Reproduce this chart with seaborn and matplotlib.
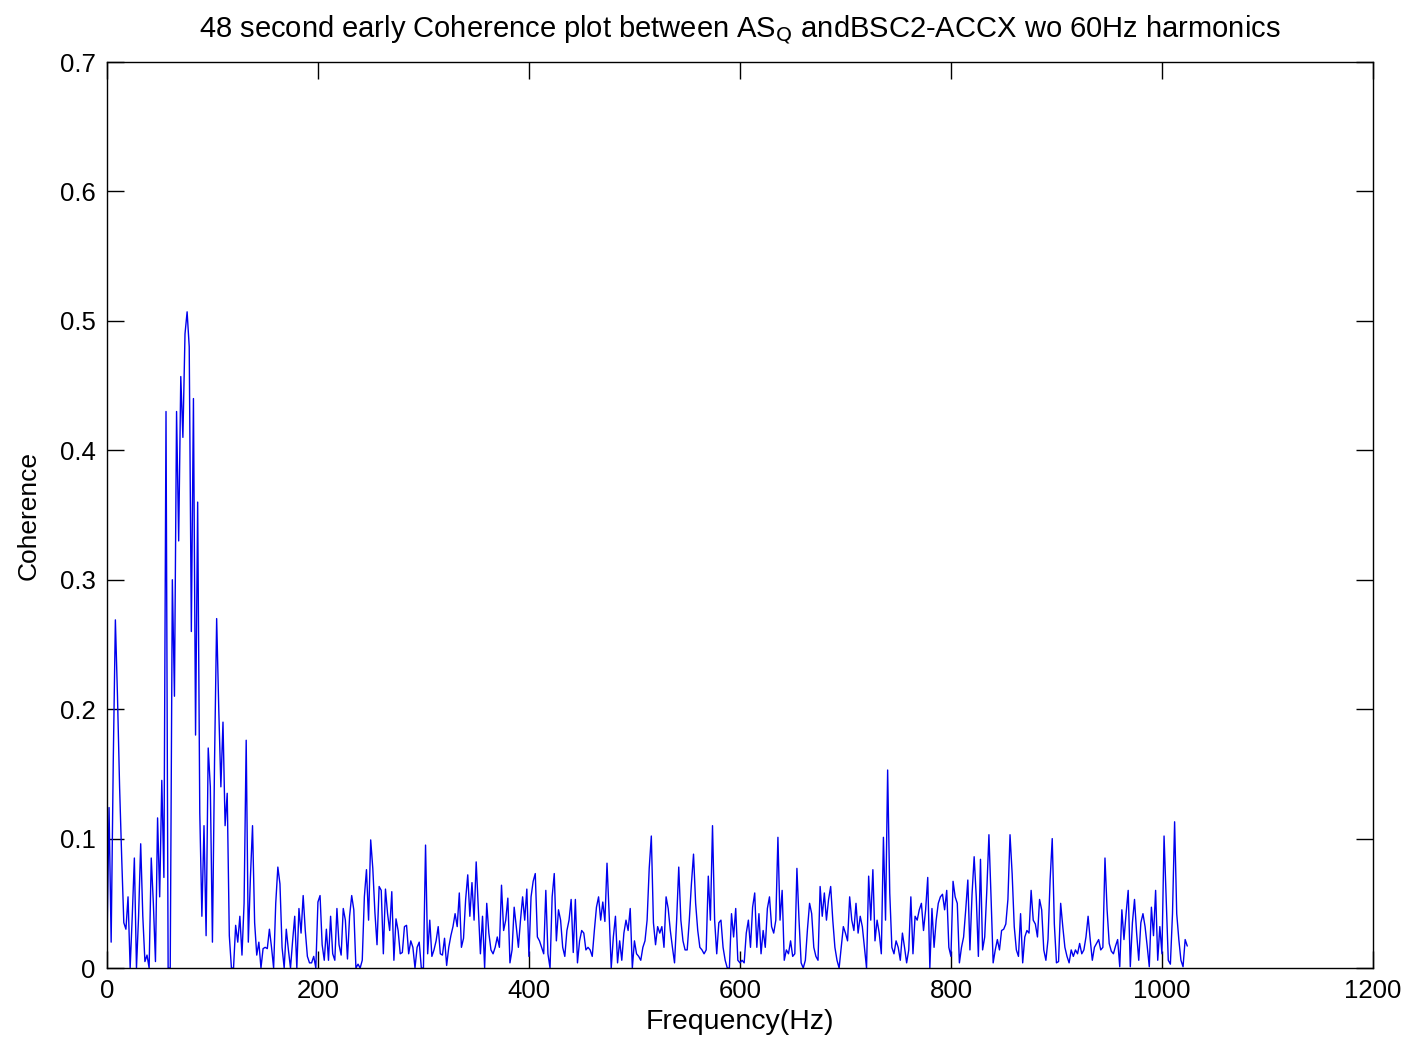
import numpy as np
import pandas as pd
import matplotlib
matplotlib.use("Agg")
import matplotlib.pyplot as plt
import seaborn as sns

coh_000_148 = [
    0.015, 0.124, 0.02, 0.16, 0.269, 0.21, 0.14, 0.085, 0.035, 0.03,
    0.055, 0.0, 0.04, 0.085, 0.0, 0.04, 0.096, 0.04, 0.005, 0.01,
    0.0, 0.085, 0.05, 0.005, 0.116, 0.055, 0.145, 0.07, 0.43, 0.0,
    0.0, 0.30, 0.21, 0.43, 0.33, 0.457, 0.41, 0.49, 0.507, 0.48,
    0.26, 0.44, 0.18, 0.36, 0.12, 0.04, 0.11, 0.025, 0.17, 0.14,
    0.02, 0.16, 0.27, 0.2, 0.14, 0.19, 0.11, 0.135, 0.025, 0.0,
    0.0, 0.033, 0.02, 0.04, 0.01, 0.05, 0.176, 0.02, 0.07, 0.11,
    0.035, 0.01, 0.02, 0.0, 0.015,
]
coh_150_304 = [
    0.016, 0.015, 0.03, 0.016, 0.0, 0.05, 0.078, 0.065, 0.016, 0.0,
    0.03, 0.014, 0.0, 0.021, 0.04, 0.0, 0.046, 0.027, 0.056, 0.029,
    0.009, 0.004, 0.004, 0.009, 0.0, 0.051, 0.056, 0.018, 0.006, 0.03,
    0.006, 0.04, 0.011, 0.006, 0.046, 0.018, 0.01, 0.046, 0.037, 0.007,
    0.04, 0.056, 0.045, 0.0, 0.003, 0.0, 0.006, 0.055, 0.076, 0.037,
    0.099, 0.077, 0.043, 0.018, 0.063, 0.06, 0.011, 0.061, 0.042, 0.029,
    0.059, 0.006, 0.038, 0.029, 0.011, 0.012, 0.032, 0.033, 0.011, 0.021,
    0.016, 0.0, 0.016, 0.02, 0.0, 0.0, 0.095, 0.011,
]
coh_306_476 = [
    0.037, 0.009, 0.014, 0.021, 0.032, 0.011, 0.01, 0.023, 0.002, 0.016,
    0.025, 0.032, 0.042, 0.032, 0.058, 0.016, 0.023, 0.053, 0.072, 0.04,
    0.066, 0.037, 0.082, 0.046, 0.011, 0.04, 0.0, 0.05, 0.027, 0.014,
    0.011, 0.016, 0.024, 0.016, 0.064, 0.029, 0.037, 0.054, 0.004, 0.014,
    0.047, 0.032, 0.016, 0.037, 0.055, 0.037, 0.061, 0.009, 0.055, 0.067,
    0.073, 0.024, 0.021, 0.016, 0.011, 0.06, 0.011, 0.0, 0.055, 0.073,
    0.021, 0.045, 0.037, 0.016, 0.009, 0.029, 0.037, 0.053, 0.012, 0.053,
    0.004, 0.021, 0.029, 0.027, 0.014, 0.016, 0.014, 0.009, 0.029, 0.047,
    0.055, 0.037, 0.051, 0.036, 0.081, 0.042,
]
coh_478_630 = [
    0.0, 0.024, 0.04, 0.004, 0.021, 0.006, 0.027, 0.037, 0.029, 0.046,
    0.0, 0.021, 0.011, 0.009, 0.006, 0.016, 0.021, 0.037, 0.077, 0.102,
    0.035, 0.018, 0.032, 0.027, 0.032, 0.016, 0.055, 0.046, 0.029, 0.016,
    0.004, 0.037, 0.078, 0.037, 0.021, 0.014, 0.014, 0.037, 0.065, 0.088,
    0.05, 0.029, 0.016, 0.014, 0.011, 0.014, 0.071, 0.037, 0.11, 0.037,
    0.011, 0.035, 0.037, 0.016, 0.006, 0.0, 0.0, 0.042, 0.024, 0.046,
    0.006, 0.004, 0.006, 0.004, 0.027, 0.037, 0.016, 0.047, 0.058, 0.016,
    0.042, 0.011, 0.029, 0.016, 0.046, 0.055, 0.032,
]
coh_632_790 = [
    0.027, 0.037, 0.101, 0.037, 0.06, 0.006, 0.014, 0.011, 0.021, 0.009,
    0.011, 0.077, 0.037, 0.004, 0.0, 0.006, 0.03, 0.05, 0.042, 0.016,
    0.009, 0.006, 0.063, 0.04, 0.058, 0.037, 0.053, 0.063, 0.037, 0.016,
    0.006, 0.0, 0.016, 0.032, 0.027, 0.021, 0.055, 0.037, 0.029, 0.05,
    0.027, 0.04, 0.032, 0.016, 0.0, 0.071, 0.037, 0.076, 0.021, 0.037,
    0.027, 0.011, 0.101, 0.037, 0.153, 0.058, 0.016, 0.011, 0.021, 0.016,
    0.006, 0.027, 0.016, 0.004, 0.014, 0.055, 0.011, 0.04, 0.037, 0.045,
    0.05, 0.029, 0.045, 0.07, 0.0, 0.046, 0.016, 0.037, 0.05, 0.055,
]
coh_792_950 = [
    0.057, 0.045, 0.06, 0.016, 0.009, 0.067, 0.055, 0.05, 0.004, 0.016,
    0.024, 0.045, 0.068, 0.014, 0.057, 0.086, 0.055, 0.009, 0.084, 0.014,
    0.024, 0.06, 0.103, 0.055, 0.004, 0.014, 0.022, 0.014, 0.029, 0.03,
    0.034, 0.053, 0.103, 0.073, 0.032, 0.014, 0.009, 0.042, 0.004, 0.024,
    0.029, 0.027, 0.06, 0.037, 0.034, 0.024, 0.053, 0.045, 0.014, 0.006,
    0.022, 0.068, 0.1, 0.034, 0.004, 0.005, 0.05, 0.032, 0.016, 0.009,
    0.004, 0.014, 0.009, 0.014, 0.011, 0.019, 0.011, 0.014, 0.024, 0.04,
    0.022, 0.006, 0.016, 0.019, 0.022, 0.014, 0.016, 0.085, 0.045, 0.019,
]
coh_952_1024 = [
    0.013, 0.011, 0.017, 0.022, 0.001, 0.045, 0.022, 0.042, 0.06, 0.001,
    0.035, 0.053, 0.027, 0.006, 0.035, 0.042, 0.032, 0.017, 0.001, 0.047,
    0.025, 0.06, 0.006, 0.032, 0.011, 0.102, 0.055, 0.006, 0.003, 0.042,
    0.113, 0.042, 0.022, 0.006, 0.001, 0.022, 0.017,
]

freq_step_hz = 2
coherence = (coh_000_148 + coh_150_304 + coh_306_476 + coh_478_630
             + coh_632_790 + coh_792_950 + coh_952_1024)
frequency = [i * freq_step_hz for i in range(len(coherence))]

x_ticks = [0, 200, 400, 600, 800, 1000, 1200]
y_ticks = [0, 0.1, 0.2, 0.3, 0.4, 0.5, 0.6, 0.7]
y_tick_labels = ["0", "0.1", "0.2", "0.3", "0.4", "0.5", "0.6", "0.7"]

df = pd.DataFrame({"Frequency": frequency, "Coherence": coherence})

sns.set_theme(style="white")
plt.rcParams["font.family"] = ["Liberation Sans", "DejaVu Sans"]

fig = plt.figure(figsize=(14.07, 10.39), dpi=100)
ax = fig.add_axes([0.076, 0.0683, 0.8998, 0.872])

sns.lineplot(data=df, x="Frequency", y="Coherence", ax=ax,
             color="#0000ee", linewidth=1.0, estimator=None)

ax.set_xlim(0, 1200)
ax.set_ylim(0, 0.7)
ax.set_xticks(x_ticks)
ax.set_xticklabels([str(t) for t in x_ticks])
ax.set_yticks(y_ticks)
ax.set_yticklabels(y_tick_labels)

for s in ax.spines.values():
    s.set_color("black")
    s.set_linewidth(1.0)
    s.set_visible(True)

ax.tick_params(axis="both", which="major", direction="in", length=12,
               width=1.0, color="black", labelsize=18.5, labelcolor="black",
               top=True, right=True, bottom=True, left=True, pad=8)

ax.set_xlabel("Frequency(Hz)", fontsize=20.5, color="black", labelpad=4)
ax.set_ylabel("Coherence", fontsize=19, color="black", labelpad=14)
ax.set_title(r"48 second early Coherence plot between AS$_{\mathrm{Q}}$ andBSC2-ACCX wo 60Hz harmonics",
             fontsize=21, color="black", pad=18)

fig.savefig("out.png", dpi=100, facecolor="white")
print(len(coherence), frequency[-1])
